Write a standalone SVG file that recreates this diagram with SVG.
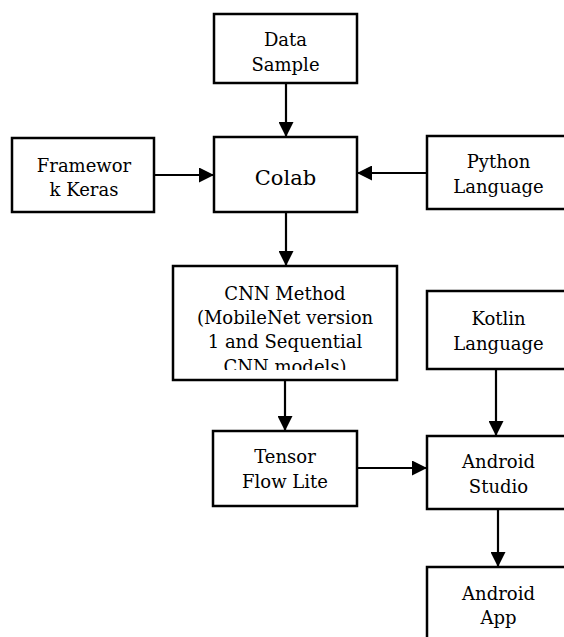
<svg xmlns="http://www.w3.org/2000/svg" width="564" height="637" viewBox="0 0 564 637">
<style>
.box{fill:#fff;stroke:#000;stroke-width:2.5}
.t{font-family:"DejaVu Serif","Liberation Serif",serif;font-size:18px;fill:#000;text-anchor:middle}
.big{font-size:21px}
.c{stroke:#000;stroke-width:2.2;fill:none}
</style>
<defs>
<marker id="ah" markerUnits="userSpaceOnUse" markerWidth="15" markerHeight="15" refX="15" refY="7.5" orient="auto">
<path d="M0,0 L15,7.5 L0,15 Z" fill="#000"/>
</marker>
<clipPath id="cnnclip"><rect x="173" y="266" width="224" height="104"/></clipPath>
</defs>
<rect width="564" height="637" fill="#fff"/>
<g id="connectors">
<line class="c" x1="286" y1="83" x2="286" y2="137" marker-end="url(#ah)"/>
<line class="c" x1="154" y1="175" x2="214" y2="175" marker-end="url(#ah)"/>
<line class="c" x1="427" y1="173" x2="357" y2="173" marker-end="url(#ah)"/>
<line class="c" x1="286" y1="212" x2="286" y2="266" marker-end="url(#ah)"/>
<line class="c" x1="285" y1="380" x2="285" y2="431" marker-end="url(#ah)"/>
<line class="c" x1="357" y1="468" x2="427" y2="468" marker-end="url(#ah)"/>
<line class="c" x1="496" y1="369" x2="496" y2="436" marker-end="url(#ah)"/>
<line class="c" x1="498" y1="509" x2="498" y2="567" marker-end="url(#ah)"/>
</g>
<g id="data-sample">
<rect class="box" x="214" y="14" width="143" height="69"/>
<text class="t" x="285.5" y="46">Data</text>
<text class="t" x="285.5" y="71">Sample</text>
</g>
<g id="colab">
<rect class="box" x="214" y="137" width="143" height="75"/>
<text class="t big" x="285.5" y="185">Colab</text>
</g>
<g id="framework-keras">
<rect class="box" x="12" y="138" width="142" height="74"/>
<text class="t" x="84" y="172">Framewor</text>
<text class="t" x="84" y="196">k Keras</text>
</g>
<g id="python-language">
<rect class="box" x="427" y="136" width="143" height="73"/>
<text class="t" x="498.5" y="168">Python</text>
<text class="t" x="498.5" y="193">Language</text>
</g>
<g id="cnn-method">
<rect class="box" x="173" y="266" width="224" height="114"/>
<g clip-path="url(#cnnclip)">
<text class="t" x="285" y="300">CNN Method</text>
<text class="t" x="285" y="324">(MobileNet version</text>
<text class="t" x="285" y="348">1 and Sequential</text>
<text class="t" x="285" y="373">CNN models)</text>
</g>
</g>
<g id="tensor-flow-lite">
<rect class="box" x="213" y="431" width="144" height="75"/>
<text class="t" x="285" y="463">Tensor</text>
<text class="t" x="285" y="488">Flow Lite</text>
</g>
<g id="kotlin-language">
<rect class="box" x="427" y="291" width="143" height="78"/>
<text class="t" x="498.5" y="325">Kotlin</text>
<text class="t" x="498.5" y="350">Language</text>
</g>
<g id="android-studio">
<rect class="box" x="427" y="436" width="143" height="73"/>
<text class="t" x="498.5" y="468">Android</text>
<text class="t" x="498.5" y="493">Studio</text>
</g>
<g id="android-app">
<rect class="box" x="427" y="567" width="143" height="80"/>
<text class="t" x="498.5" y="600">Android</text>
<text class="t" x="498.5" y="624">App</text>
</g>
</svg>
